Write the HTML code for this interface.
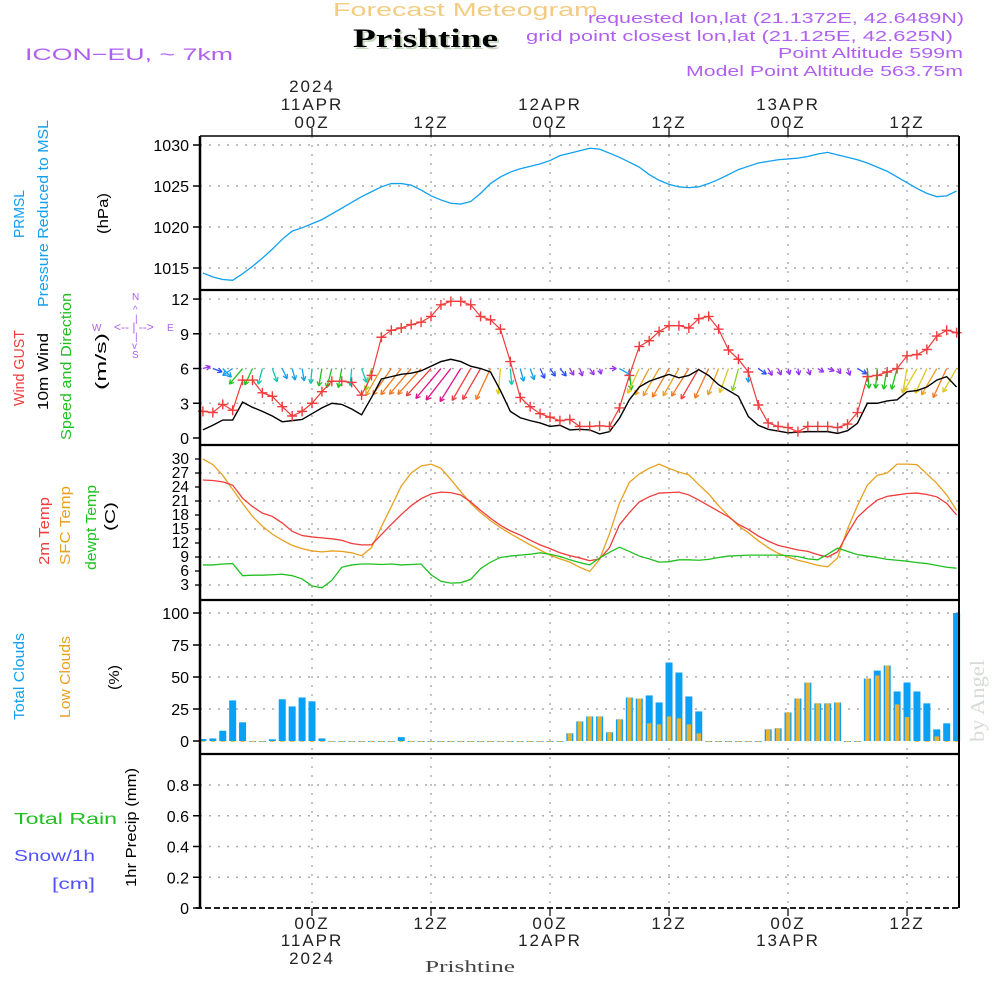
<!DOCTYPE html>
<html><head><meta charset="utf-8"><style>
html,body{margin:0;padding:0;background:#fff;}
svg{display:block;}
text{font-family:"Liberation Sans","DejaVu Sans",sans-serif;}
</style></head><body>
<svg id="chart" width="1000" height="1000" viewBox="0 0 1000 1000" xmlns="http://www.w3.org/2000/svg">
<g>
<text x="333" y="16" font-size="18" fill="#f2cc80" textLength="265" lengthAdjust="spacingAndGlyphs">Forecast  Meteogram</text>
<text x="355" y="49" font-size="26" font-weight="bold" fill="#c8d8c0" textLength="145" lengthAdjust="spacingAndGlyphs" style="font-family:'Liberation Serif',serif">Prishtine</text>
<text x="353" y="47" font-size="26" font-weight="bold" fill="#000" textLength="145" lengthAdjust="spacingAndGlyphs" style="font-family:'Liberation Serif',serif">Prishtine</text>
<text x="25" y="60" font-size="17" fill="#b060f0" textLength="208" lengthAdjust="spacingAndGlyphs">ICON−EU,  ~  7km</text>
<text x="588" y="23" font-size="15" fill="#b060f0" textLength="376" lengthAdjust="spacingAndGlyphs">requested lon,lat (21.1372E, 42.6489N)</text>
<text x="526" y="41" font-size="15" fill="#b060f0" textLength="427" lengthAdjust="spacingAndGlyphs">grid point closest lon,lat (21.125E, 42.625N)</text>
<text x="778" y="58" font-size="15" fill="#b060f0" textLength="185" lengthAdjust="spacingAndGlyphs">Point Altitude 599m</text>
<text x="686" y="76" font-size="15" fill="#b060f0" textLength="277" lengthAdjust="spacingAndGlyphs">Model Point Altitude 563.75m</text>
</g>
<g font-size="15">
<text transform="translate(24,238) rotate(-90)" fill="#10a0f0" textLength="48" lengthAdjust="spacingAndGlyphs">PRMSL</text>
<text transform="translate(48,307) rotate(-90)" fill="#10a0f0" textLength="187" lengthAdjust="spacingAndGlyphs">Pressure Reduced to MSL</text>
<text transform="translate(108,234) rotate(-90)" fill="#000" textLength="41" lengthAdjust="spacingAndGlyphs">(hPa)</text>
<text transform="translate(24,406) rotate(-90)" fill="#f03c3c" textLength="76" lengthAdjust="spacingAndGlyphs">Wind GUST</text>
<text transform="translate(48,410) rotate(-90)" fill="#000" textLength="77" lengthAdjust="spacingAndGlyphs">10m Wind</text>
<text transform="translate(71,440) rotate(-90)" fill="#20c020" textLength="147" lengthAdjust="spacingAndGlyphs">Speed and Direction</text>
<text transform="translate(106,390) rotate(-90)" fill="#000" textLength="57" lengthAdjust="spacingAndGlyphs">(m/s)</text>
<g fill="#b060f0" font-size="10">
<text x="132" y="300">N</text><text x="92" y="331">W</text><text x="167" y="331">E</text><text x="132" y="358">S</text>
<text x="114" y="331" font-size="12">&lt;-- | --&gt;</text>
<text x="133" y="313" font-size="10">^</text><text x="135" y="322" font-size="10">|</text><text x="135" y="340" font-size="10">|</text><text x="132" y="349" font-size="10">v</text>
</g>
<text transform="translate(49,565) rotate(-90)" fill="#f03c3c" textLength="68" lengthAdjust="spacingAndGlyphs">2m Temp</text>
<text transform="translate(70,565) rotate(-90)" fill="#e8a020" textLength="79" lengthAdjust="spacingAndGlyphs">SFC Temp</text>
<text transform="translate(96,570) rotate(-90)" fill="#20c020" textLength="85" lengthAdjust="spacingAndGlyphs">dewpt Temp</text>
<text transform="translate(115,531) rotate(-90)" fill="#000" textLength="29" lengthAdjust="spacingAndGlyphs">(C)</text>
<text transform="translate(24,720) rotate(-90)" fill="#10a0f0" textLength="87" lengthAdjust="spacingAndGlyphs">Total Clouds</text>
<text transform="translate(70,718) rotate(-90)" fill="#e8a020" textLength="82" lengthAdjust="spacingAndGlyphs">Low Clouds</text>
<text transform="translate(119,690) rotate(-90)" fill="#000" textLength="25" lengthAdjust="spacingAndGlyphs">(%)</text>
<text transform="translate(136,887) rotate(-90)" fill="#000" textLength="119" lengthAdjust="spacingAndGlyphs">1hr Precip (mm)</text>
<text x="14" y="824" font-size="16" fill="#20c020" textLength="103" lengthAdjust="spacingAndGlyphs">Total    Rain</text>
<text x="14" y="861" font-size="16" fill="#5050ff" textLength="81" lengthAdjust="spacingAndGlyphs">Snow/1h</text>
<text x="52" y="889" font-size="16" fill="#5050ff" textLength="43" lengthAdjust="spacingAndGlyphs">[cm]</text>
<text transform="translate(984,742) rotate(-90)" fill="#d4dcd4" font-size="20" style="font-family:'Liberation Serif',serif" textLength="82" lengthAdjust="spacingAndGlyphs">by Angel</text>
<text x="425" y="972" fill="#444" font-size="17" style="font-family:'Liberation Serif',serif" textLength="90" lengthAdjust="spacingAndGlyphs">Prishtine</text>
</g>
<g id="grid"></g>
<g id="marks"></g>
<g id="frame"></g>
</svg>
<script>
// Hours relative to 00Z 11APR 2024 (hourly, -11 .. 65)
const hours = [];
for (let h = -11; h <= 65; h++) hours.push(h);
const pressure = [1014.4,1013.9,1013.6,1013.5,1014.3,1015.2,1016.2,1017.3,1018.5,1019.5,1019.9,1020.4,1020.9,1021.6,1022.3,1023.0,1023.7,1024.3,1024.9,1025.3,1025.3,1025.1,1024.5,1023.8,1023.3,1022.9,1022.8,1023.1,1024.1,1025.3,1026.1,1026.7,1027.1,1027.4,1027.7,1028.1,1028.7,1029.0,1029.3,1029.6,1029.5,1029.0,1028.5,1027.9,1027.3,1026.4,1025.7,1025.2,1024.9,1024.8,1024.9,1025.3,1025.8,1026.4,1027.0,1027.4,1027.8,1028.0,1028.2,1028.3,1028.4,1028.6,1028.9,1029.1,1028.8,1028.5,1028.2,1027.8,1027.3,1026.8,1026.1,1025.4,1024.7,1024.1,1023.7,1023.8,1024.4];
const gust = [2.3,2.2,2.9,2.4,5.0,5.0,3.9,3.6,2.7,1.9,2.3,3.0,4.0,4.9,4.9,4.8,3.7,5.4,8.7,9.3,9.5,9.8,10.0,10.5,11.5,11.8,11.8,11.5,10.5,10.2,9.4,6.6,3.5,2.7,2.1,1.8,1.5,1.6,1.0,1.0,1.05,1.0,2.6,5.4,7.9,8.4,9.2,9.7,9.7,9.5,10.3,10.5,9.4,7.6,6.8,5.7,2.85,1.3,1.0,0.9,0.55,1.0,1.0,1.0,0.9,1.2,2.2,5.3,5.4,5.7,6.0,7.1,7.2,7.65,8.8,9.3,9.1];
const wind10 = [0.7,1.1,1.55,1.55,3.1,2.65,2.3,1.9,1.4,1.5,1.6,2.1,2.6,3.0,2.9,2.5,2.0,3.5,5.1,5.3,5.5,5.6,5.8,6.2,6.6,6.8,6.6,6.2,6.0,5.7,4.1,2.3,1.75,1.5,1.3,1.0,1.1,0.7,0.75,0.7,0.35,0.55,1.7,3.3,4.4,4.9,5.2,5.5,5.2,5.4,5.9,5.4,4.6,4.1,3.6,1.85,1.1,0.75,0.6,0.45,0.5,0.55,0.55,0.55,0.4,0.63,1.27,3.0,3.0,3.2,3.3,4.0,4.1,4.4,5.0,5.3,4.4];
const windDir = [255,290,315,55,40,25,15,340,335,345,350,5,10,15,10,5,340,15,30,35,38,40,42,42,40,38,32,30,30,25,5,355,345,340,335,325,320,330,340,325,345,270,300,355,25,28,30,30,30,32,30,25,22,20,15,0,305,330,335,345,350,340,300,290,330,340,300,355,5,10,15,10,30,25,30,25,30];
const temp2m = [25.5,25.4,25.1,24.4,21.6,19.8,18.4,17.7,16.3,14.5,13.6,13.3,13.1,12.9,12.6,11.9,11.6,11.6,13.8,16.0,18.1,20.0,21.5,22.5,22.9,22.8,22.3,20.8,19.0,17.3,15.8,14.6,13.7,12.6,11.6,10.8,9.9,9.3,8.8,8.2,8.6,11.0,15.9,18.5,20.8,21.9,22.7,22.8,22.9,22.3,21.2,20.0,18.8,17.6,16.0,14.9,13.5,12.4,11.5,11.0,10.5,10.2,9.5,9.0,10.1,14.0,17.5,19.5,21.2,22.0,22.3,22.6,22.7,22.4,21.9,20.5,18.0];
const tempSfc = [30.0,28.8,26.5,23.5,20.5,17.7,15.6,13.9,12.6,11.5,10.8,10.3,10.1,10.3,10.2,9.9,9.3,11.0,15.5,19.8,24.2,27.0,28.5,28.9,28.0,25.6,23.0,20.5,18.5,16.8,15.3,14.0,12.8,11.6,10.5,9.4,8.6,7.9,6.8,5.9,8.5,14.0,20.5,25.0,26.8,28.0,28.9,28.0,27.2,26.6,24.5,22.5,20.0,17.8,15.7,14.2,12.5,11.0,9.8,9.0,8.3,7.8,7.2,6.9,8.8,15.0,20.0,24.4,26.5,27.0,28.9,28.9,28.8,26.8,24.8,22.3,19.0];
const dewpt = [7.3,7.3,7.5,7.6,5.0,5.1,5.1,5.2,5.3,5.0,4.3,2.8,2.4,4.0,6.8,7.3,7.5,7.5,7.4,7.5,7.3,7.4,7.5,5.2,3.8,3.4,3.5,4.2,6.5,7.9,8.9,9.2,9.4,9.6,9.9,9.6,9.1,8.4,7.8,7.3,8.8,10.0,11.1,10.2,9.2,8.6,7.9,8.0,8.4,8.4,8.3,8.5,8.9,9.2,9.3,9.4,9.4,9.4,9.4,9.3,9.1,8.6,8.4,9.6,10.9,10.2,9.5,9.2,8.9,8.5,8.3,8.1,7.8,7.6,7.2,6.8,6.6];
const totalClouds = [1.5,2,8,31.7,14.6,0,0,1.3,32.6,27,34,31,2, 0,0,0,0,0,0,0, 3, 0,0,0,0,0,0,0,0,0,0,0,0,0,0,0,0, 6,15.3,19.2,19.2,6.8,16.9,34,33.2,35.6,30.1,61.3,53.5,34.8,23.1, 0,0,0,0,0,0, 9.1,9.9,22.3,33.2,45.7,29.4,29.4,30.1,0,0,48.8,55,59,38.7,45.7,38.7,29.4,9.1,13.8,100];
const lowClouds = [0,0,0,0,0,0,0,0,0,0,0,0,0, 0,0,0,0,0,0,0, 0, 0,0,0,0,0,0,0,0,0,0,0,0,0,0,0,0, 6,15.3,19.2,19.2,6.8,16.9,34,33.2,13.8,13,19.2,17.7,13,6, 0,0,0,0,0,0, 9.1,9.9,22.3,33.2,45.7,29.4,29.4,30.1,0,0,48.8,51.2,59,28.6,18.7,0,0,3.6,0,0];
const precip = hours.map(() => 0);
const pTicks = [1015,1020,1025,1030];
const wTicks = [0,3,6,9,12];
const tTicks = [3,6,9,12,15,18,21,24,27,30];
const tGrid = [3,9,15,21,27];
const cTicks = [0,25,50,75,100];
const rTicks = [0,0.2,0.4,0.6,0.8];
const timeTicks = [0,12,24,36,48,60];
const topLabels = [["2024","11APR","00Z"],["","","12Z"],["","12APR","00Z"],["","","12Z"],["","13APR","00Z"],["","","12Z"]];
const botLabels = [["00Z","11APR","2024"],["12Z","",""],["00Z","12APR",""],["12Z","",""],["00Z","13APR",""],["12Z","",""]];

const X = h => 312 + h * 9.917;
const YP = p => 145 + (1030 - p) * 8.2;
const YW = v => 438 - v * 11.58;
const YT = t => 459 + (30 - t) * 4.667;
const YC = c => 741 - c * 1.28;
const YR = r => 908 - r * 153.75;
const L = 200, R = 959;
const NS = "http://www.w3.org/2000/svg";
function mk(tag, attrs, parent) {
  const e = document.createElementNS(NS, tag);
  for (const k in attrs) e.setAttribute(k, attrs[k]);
  parent.appendChild(e);
  return e;
}
const grid = document.getElementById('grid');
const marks = document.getElementById('marks');
const frame = document.getElementById('frame');
const dot = {stroke:"#aaa", "stroke-width":1.4, "stroke-dasharray":"2 7", fill:"none"};

function hgrid(vals, fy, name) {
  vals.forEach(v => {
    const l = mk('line', Object.assign({x1:L, x2:R, y1:fy(v), y2:fy(v)}, dot), grid);
    
    
  });
}
function yticks(vals, fy, name, fmt) {
  vals.forEach(v => {
    const y = fy(v);
    const t = mk('line', {x1:193, x2:L, y1:y, y2:y, stroke:"#000", "stroke-width":1.5}, frame);
    
    
    const tx = mk('text', {x:189, y:y + 6, "text-anchor":"end", "font-size":16, fill:"#000"}, frame);
    tx.textContent = fmt ? fmt(v) : String(v);
    
    
  });
}
hgrid(pTicks, YP, 'pressure'); hgrid([3,6,9,12], YW, 'wind'); hgrid(tGrid, YT, 'temp');
hgrid([25,50,75,100], YC, 'cloud'); hgrid([0.2,0.4,0.6,0.8], YR, 'precip');
timeTicks.forEach(h => {
  const l = mk('line', Object.assign({x1:X(h), x2:X(h), y1:136, y2:908}, dot), grid);
  
  
});

const line = (arr, fx, fy, color, name, w) => {
  const p = mk('polyline', {points: arr.map((v, i) => fx(hours[i]) + ',' + fy(v)).join(' '), fill:"none", stroke:color, "stroke-width":w || 1.3}, marks);
  
  
  return p;
};
line(pressure, X, YP, "#10a0f0", 'pressure-line');

function windColor(s) {
  if (s < 0.9) return "#9933ee"; if (s < 1.4) return "#2a4fff"; if (s < 1.9) return "#10a0f0";
  if (s < 2.6) return "#10c8b0"; if (s < 3.4) return "#20c020"; if (s < 4.0) return "#90d020";
  if (s < 4.6) return "#e0c820"; if (s < 5.3) return "#e8a020"; if (s < 5.9) return "#f07820";
  if (s < 6.5) return "#f03c3c"; return "#e0108c";
}
windDir.forEach((d, i) => {
  const s = wind10[i], len = 4 + 5.3 * s, a = d * Math.PI / 180;
  const x0 = X(hours[i]), y0 = YW(6);
  const ux = -Math.sin(a), uy = Math.cos(a);
  const x1 = x0 + ux * len, y1 = y0 + uy * len;
  const c = windColor(s);
  const g = mk('g', {stroke:c, "stroke-width":1.3, fill:"none"}, marks);
  
  
  mk('line', {x1:x0, y1:y0, x2:x1, y2:y1}, g);
  const hl = 5, sp = 0.5;
  const ang = Math.atan2(uy, ux);
  mk('line', {x1:x1, y1:y1, x2:x1 - hl * Math.cos(ang - sp), y2:y1 - hl * Math.sin(ang - sp)}, g);
  mk('line', {x1:x1, y1:y1, x2:x1 - hl * Math.cos(ang + sp), y2:y1 - hl * Math.sin(ang + sp)}, g);
});
line(wind10, X, YW, "#000", 'wind-10m-line', 1.4);
line(gust, X, YW, "#f03c3c", 'wind-gust-line', 1.2);
gust.forEach((v, i) => {
  const x = X(hours[i]), y = YW(v);
  const m = mk('path', {d:`M${x-5},${y}H${x+5}M${x},${y-5}V${y+5}`, stroke:"#f03c3c", "stroke-width":1.4}, marks);
  
  
});

line(tempSfc, X, YT, "#e8a020", 'sfc-temp-line');
line(temp2m, X, YT, "#f03c3c", 'temp-2m-line');
line(dewpt, X, YT, "#20c020", 'dewpt-line');

totalClouds.forEach((v, i) => {
  const x = X(hours[i]);
  const b = mk('rect', {x:x - 3.5, y:YC(v), width:7, height:Math.max(YC(0) - YC(v), 0.8), fill:"#0aa0f5"}, marks);
  
  
  const lv = lowClouds[i];
  const o = mk('rect', {x:x - 2.2, y:YC(lv), width:4.4, height:Math.max(YC(0) - YC(lv), 0.8), fill:"#e8b030"}, marks);
  
  
});
precip.forEach((v, i) => {
  if (v <= 0) return;
  const x = X(hours[i]);
  const b = mk('rect', {x:x - 3.5, y:YR(v), width:7, height:YR(0) - YR(v), fill:"#20c020"}, marks);
  
  
});

const fl = (a, name) => {
  const e = mk('line', a, frame);
  
  
};
fl({x1:L, x2:R, y1:136, y2:136, stroke:"#000", "stroke-width":1.5}, 'top-border');
[290, 445, 600, 754].forEach(y => fl({x1:L, x2:R, y1:y, y2:y, stroke:"#000", "stroke-width":2.2}, 'panel-separator'));
fl({x1:L, x2:L, y1:136, y2:908, stroke:"#000", "stroke-width":2.5}, 'left-axis');
fl({x1:R, x2:R, y1:136, y2:908, stroke:"#000", "stroke-width":2}, 'right-border');
fl({x1:L - 4, x2:R, y1:908, y2:908, stroke:"#000", "stroke-width":1.8, "stroke-dasharray":"6 3"}, 'precip-zero-line');
yticks(pTicks, YP, 'pressure');
yticks(wTicks, YW, 'wind');
tTicks.forEach(v => {
  const y = YT(v);
  const tx = mk('text', {x:189, y:y + 5, "text-anchor":"end", "font-size":15.5, fill:"#000"}, frame);
  tx.textContent = String(v);
  
  
  const t = mk('line', {x1:195, x2:L, y1:y, y2:y, stroke:"#000", "stroke-width":1.3}, frame);
  
  
});
yticks(cTicks, YC, 'cloud');
yticks(rTicks, YR, 'precip', v => v === 0 ? "0" : v.toFixed(1));

timeTicks.forEach((h, k) => {
  const x = X(h);
  fl({x1:x, x2:x, y1:128, y2:136, stroke:"#000", "stroke-width":1.2}, 'top-time-tick');
  fl({x1:x, x2:x, y1:908, y2:916, stroke:"#000", "stroke-width":1.2}, 'bottom-time-tick');
  const ty = [92, 110, 128];
  topLabels[k].forEach((s, j) => {
    if (!s) return;
    const t = mk('text', {x:x, y:ty[j], "text-anchor":"middle", "font-size":17, fill:"#222", "letter-spacing":"2"}, frame);
    t.textContent = s;
    
    
  });
  const by = [929, 946, 964];
  botLabels[k].forEach((s, j) => {
    if (!s) return;
    const t = mk('text', {x:x, y:by[j], "text-anchor":"middle", "font-size":17, fill:"#222", "letter-spacing":"2"}, frame);
    t.textContent = s;
    
    
  });
});
</script>
</body></html>
